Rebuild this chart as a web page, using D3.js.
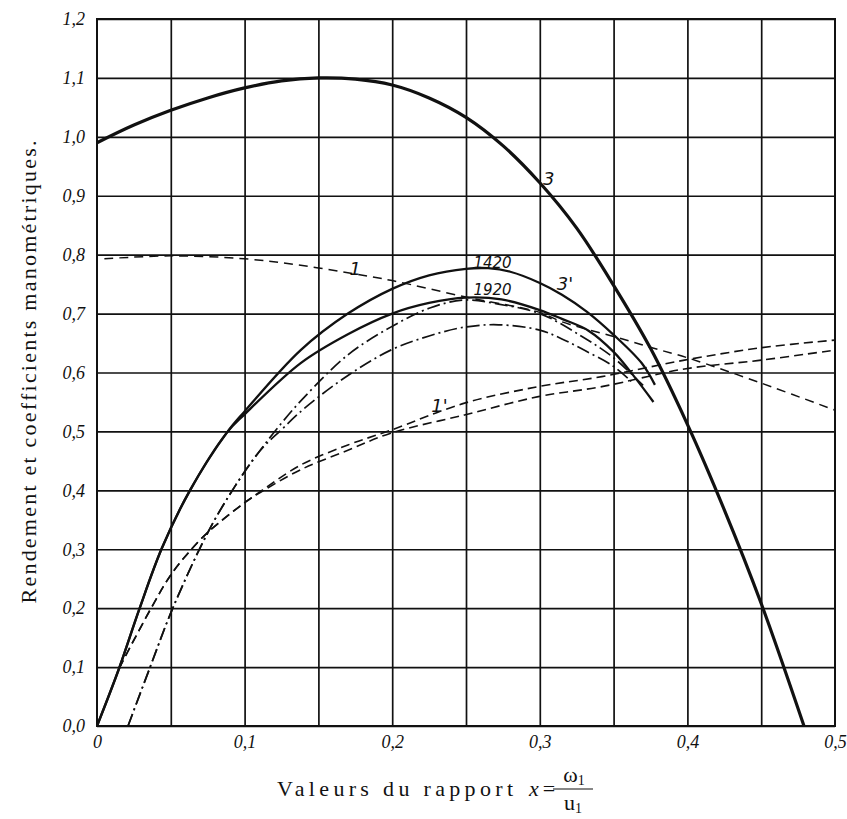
<!DOCTYPE html>
<html>
<head>
<meta charset="utf-8">
<script src="https://cdn.jsdelivr.net/npm/d3@7"></script>
<style>
  body { margin: 0; background: #fff; }
  svg { display: block; }
  .serif { font-family: 'Liberation Serif', 'DejaVu Serif', 'Times New Roman', serif; }
</style>
</head>
<body>
<script>
var curve3 = [[0, 0.99], [0.025, 1.02], [0.05, 1.045], [0.075, 1.066], [0.1, 1.083], [0.125, 1.095],
  [0.15, 1.1], [0.175, 1.098], [0.2, 1.088], [0.225, 1.066], [0.25, 1.033], [0.275, 0.985],
  [0.3, 0.922], [0.325, 0.845], [0.35, 0.748], [0.375, 0.641], [0.4, 0.512], [0.425, 0.367],
  [0.45, 0.208], [0.479, 0.0]];

var curve1 = [[0.005, 0.793], [0.05, 0.798], [0.1, 0.793], [0.138, 0.782], [0.175, 0.767], [0.2, 0.756],
  [0.25, 0.728], [0.3, 0.702], [0.315, 0.686], [0.353, 0.659], [0.376, 0.642], [0.4, 0.625],
  [0.45, 0.582], [0.5, 0.536]];

var curve1420 = [[0, 0], [0.015, 0.098], [0.0285, 0.197], [0.044, 0.302], [0.063, 0.4], [0.088, 0.498],
  [0.1, 0.534], [0.138, 0.638], [0.17, 0.7], [0.2, 0.742], [0.225, 0.765], [0.25, 0.776],
  [0.265, 0.777], [0.28, 0.771], [0.3, 0.752], [0.315, 0.732], [0.332, 0.703], [0.35, 0.664],
  [0.369, 0.616], [0.378, 0.579]];

var curve1920 = [[0, 0], [0.015, 0.098], [0.0285, 0.197], [0.044, 0.302], [0.063, 0.4], [0.088, 0.498],
  [0.1, 0.529], [0.138, 0.616], [0.17, 0.665], [0.2, 0.7], [0.225, 0.718], [0.25, 0.727],
  [0.274, 0.724], [0.3, 0.706], [0.315, 0.691], [0.333, 0.671], [0.35, 0.635], [0.364, 0.593],
  [0.377, 0.55]];

var dashDotUpper = [[0.021, 0], [0.036, 0.1], [0.051, 0.198], [0.075, 0.328], [0.093, 0.405], [0.11, 0.466],
  [0.125, 0.514], [0.14, 0.557], [0.17, 0.63], [0.199, 0.677], [0.226, 0.71], [0.249, 0.723],
  [0.272, 0.716], [0.3, 0.7], [0.328, 0.662], [0.35, 0.625], [0.37, 0.578]];

var dashDotLower = [[0.021, 0], [0.036, 0.1], [0.051, 0.198], [0.075, 0.328], [0.093, 0.405], [0.11, 0.466],
  [0.125, 0.503], [0.14, 0.538], [0.17, 0.595], [0.199, 0.638], [0.225, 0.662], [0.249, 0.677],
  [0.272, 0.681], [0.3, 0.672], [0.315, 0.657], [0.33, 0.638], [0.349, 0.612], [0.362, 0.585]];

var curve1pUpper = [[0.015, 0.098], [0.036, 0.197], [0.051, 0.26], [0.068, 0.311], [0.077, 0.333],
  [0.1, 0.379], [0.113, 0.402], [0.138, 0.443], [0.17, 0.477], [0.199, 0.502], [0.249, 0.548],
  [0.299, 0.576], [0.342, 0.593], [0.398, 0.621], [0.45, 0.642], [0.5, 0.655]];

var curve1pLower = [[0.015, 0.098], [0.036, 0.197], [0.051, 0.26], [0.068, 0.311], [0.077, 0.333],
  [0.1, 0.379], [0.113, 0.4], [0.138, 0.435], [0.17, 0.468], [0.199, 0.497], [0.249, 0.528],
  [0.299, 0.559], [0.342, 0.576], [0.398, 0.606], [0.45, 0.621], [0.5, 0.638]];

// hand written marks on the curves (data coords of their baseline)
var curveLabels = [
  { text: '3', x: 0.306, y: 0.918 },
  { text: '1', x: 0.175, y: 0.766 },
  { text: '1420', x: 0.268, y: 0.778 },
  { text: '1920', x: 0.268, y: 0.732 },
  { text: '3\'', x: 0.317, y: 0.74 },
  { text: '1\'', x: 0.232, y: 0.533 }
];

var xTicks = [0, 0.1, 0.2, 0.3, 0.4, 0.5];
var yTicks = [0, 0.1, 0.2, 0.3, 0.4, 0.5, 0.6, 0.7, 0.8, 0.9, 1.0, 1.1, 1.2];
var xGrid = [0.05, 0.1, 0.15, 0.2, 0.25, 0.3, 0.35, 0.4, 0.45];

var width = 847;
var height = 819;
var margin = { top: 19, right: 12, bottom: 93, left: 97 };
var plotW = width - margin.left - margin.right;
var plotH = height - margin.top - margin.bottom;

var svg = d3.select('body').append('svg')
  .attr('width', width)
  .attr('height', height);

svg.append('rect').attr('width', width).attr('height', height).attr('fill', '#fff');

var g = svg.append('g')
  .attr('transform', 'translate(' + margin.left + ',' + margin.top + ')');

var x = d3.scaleLinear().domain([0, 0.5]).range([0, plotW]);
var y = d3.scaleLinear().domain([0, 1.2]).range([plotH, 0]);

var commaFormat = function (d) {
  return d3.format('.1f')(d).replace('.', ',');
};

// grid
g.append('g')
  .attr('class', 'grid')
  .attr('transform', 'translate(0,' + plotH + ')')
  .call(d3.axisBottom(x).tickValues(xGrid).tickSize(-plotH).tickFormat(''));

g.append('g')
  .attr('class', 'grid')
  .call(d3.axisLeft(y).tickValues(yTicks).tickSize(-plotW).tickFormat(''));

g.selectAll('.grid .domain').remove();
g.selectAll('.grid line')
  .attr('stroke', '#111')
  .attr('stroke-width', 1.7);

g.append('rect')
  .attr('width', plotW)
  .attr('height', plotH)
  .attr('fill', 'none')
  .attr('stroke', '#111')
  .attr('stroke-width', 2);

// tick labels
var xAxis = g.append('g')
  .attr('transform', 'translate(0,' + plotH + ')')
  .call(d3.axisBottom(x).tickValues(xTicks).tickSize(0).tickPadding(9)
    .tickFormat(function (d) { return d === 0 ? '0' : commaFormat(d); }));

var yAxis = g.append('g')
  .call(d3.axisLeft(y).tickValues(yTicks).tickSize(0).tickPadding(12)
    .tickFormat(commaFormat));

[xAxis, yAxis].forEach(function (a) {
  a.attr('font-family', 'Liberation Serif, DejaVu Serif, serif').attr('font-size', 18);
  a.select('.domain').remove();
  a.selectAll('text')
    .attr('fill', '#111')
    .style('font-style', 'italic');
});

// curves
var line = d3.line()
  .x(function (d) { return x(d[0]); })
  .y(function (d) { return y(d[1]); })
  .curve(d3.curveCatmullRom.alpha(0.5));

var series = [
  { data: curve1pUpper, width: 1.6, dash: '9,5' },
  { data: curve1pLower, width: 1.6, dash: '9,5' },
  { data: curve1, width: 1.5, dash: '9,6' },
  { data: dashDotUpper, width: 1.7, dash: '13,4,2,4' },
  { data: dashDotLower, width: 1.7, dash: '13,4,2,4' },
  { data: curve1920, width: 2.3, dash: null },
  { data: curve1420, width: 2.3, dash: null },
  { data: curve3, width: 3.2, dash: null }
];

g.selectAll('.curve')
  .data(series)
  .enter().append('path')
  .attr('class', 'curve')
  .attr('d', function (d) { return line(d.data); })
  .attr('fill', 'none')
  .attr('stroke', '#111')
  .attr('stroke-width', function (d) { return d.width; })
  .attr('stroke-dasharray', function (d) { return d.dash; });

g.selectAll('.curve-label')
  .data(curveLabels)
  .enter().append('text')
  .attr('class', 'curve-label')
  .attr('x', function (d) { return x(d.x); })
  .attr('y', function (d) { return y(d.y); })
  .attr('text-anchor', 'middle')
  .attr('fill', '#111')
  .style('font-family', "'DejaVu Sans', sans-serif")
  .style('font-style', 'italic')
  .style('font-size', function (d) { return d.text.length > 2 ? '15px' : '18px'; })
  .text(function (d) { return d.text; });

// axis titles
svg.append('text')
  .attr('class', 'serif')
  .attr('transform', 'translate(36,372) rotate(-90)')
  .attr('text-anchor', 'middle')
  .attr('textLength', 463)
  .attr('lengthAdjust', 'spacing')
  .attr('fill', '#111')
  .style('font-size', '22px')
  .text('Rendement et coefficients manométriques.');

var xTitle = svg.append('g')
  .attr('class', 'serif')
  .attr('fill', '#111')
  .style('font-size', '22px');

xTitle.append('text')
  .attr('x', 277).attr('y', 796)
  .attr('textLength', 236)
  .attr('lengthAdjust', 'spacing')
  .text('Valeurs du rapport');

xTitle.append('text')
  .attr('x', 534).attr('y', 796)
  .attr('text-anchor', 'middle')
  .style('font-style', 'italic')
  .text('x');

xTitle.append('text')
  .attr('x', 549).attr('y', 796)
  .attr('text-anchor', 'middle')
  .text('=');

var num = xTitle.append('text').attr('x', 574).attr('y', 782).attr('text-anchor', 'middle');
num.append('tspan').text('ω');
num.append('tspan').attr('dy', 3).style('font-size', '14px').text('1');

xTitle.append('line')
  .attr('x1', 553).attr('x2', 593)
  .attr('y1', 789).attr('y2', 789)
  .attr('stroke', '#111')
  .attr('stroke-width', 1.2);

var den = xTitle.append('text').attr('x', 573).attr('y', 810).attr('text-anchor', 'middle');
den.append('tspan').text('u');
den.append('tspan').attr('dy', 3).style('font-size', '14px').text('1');
</script>
</body>
</html>
